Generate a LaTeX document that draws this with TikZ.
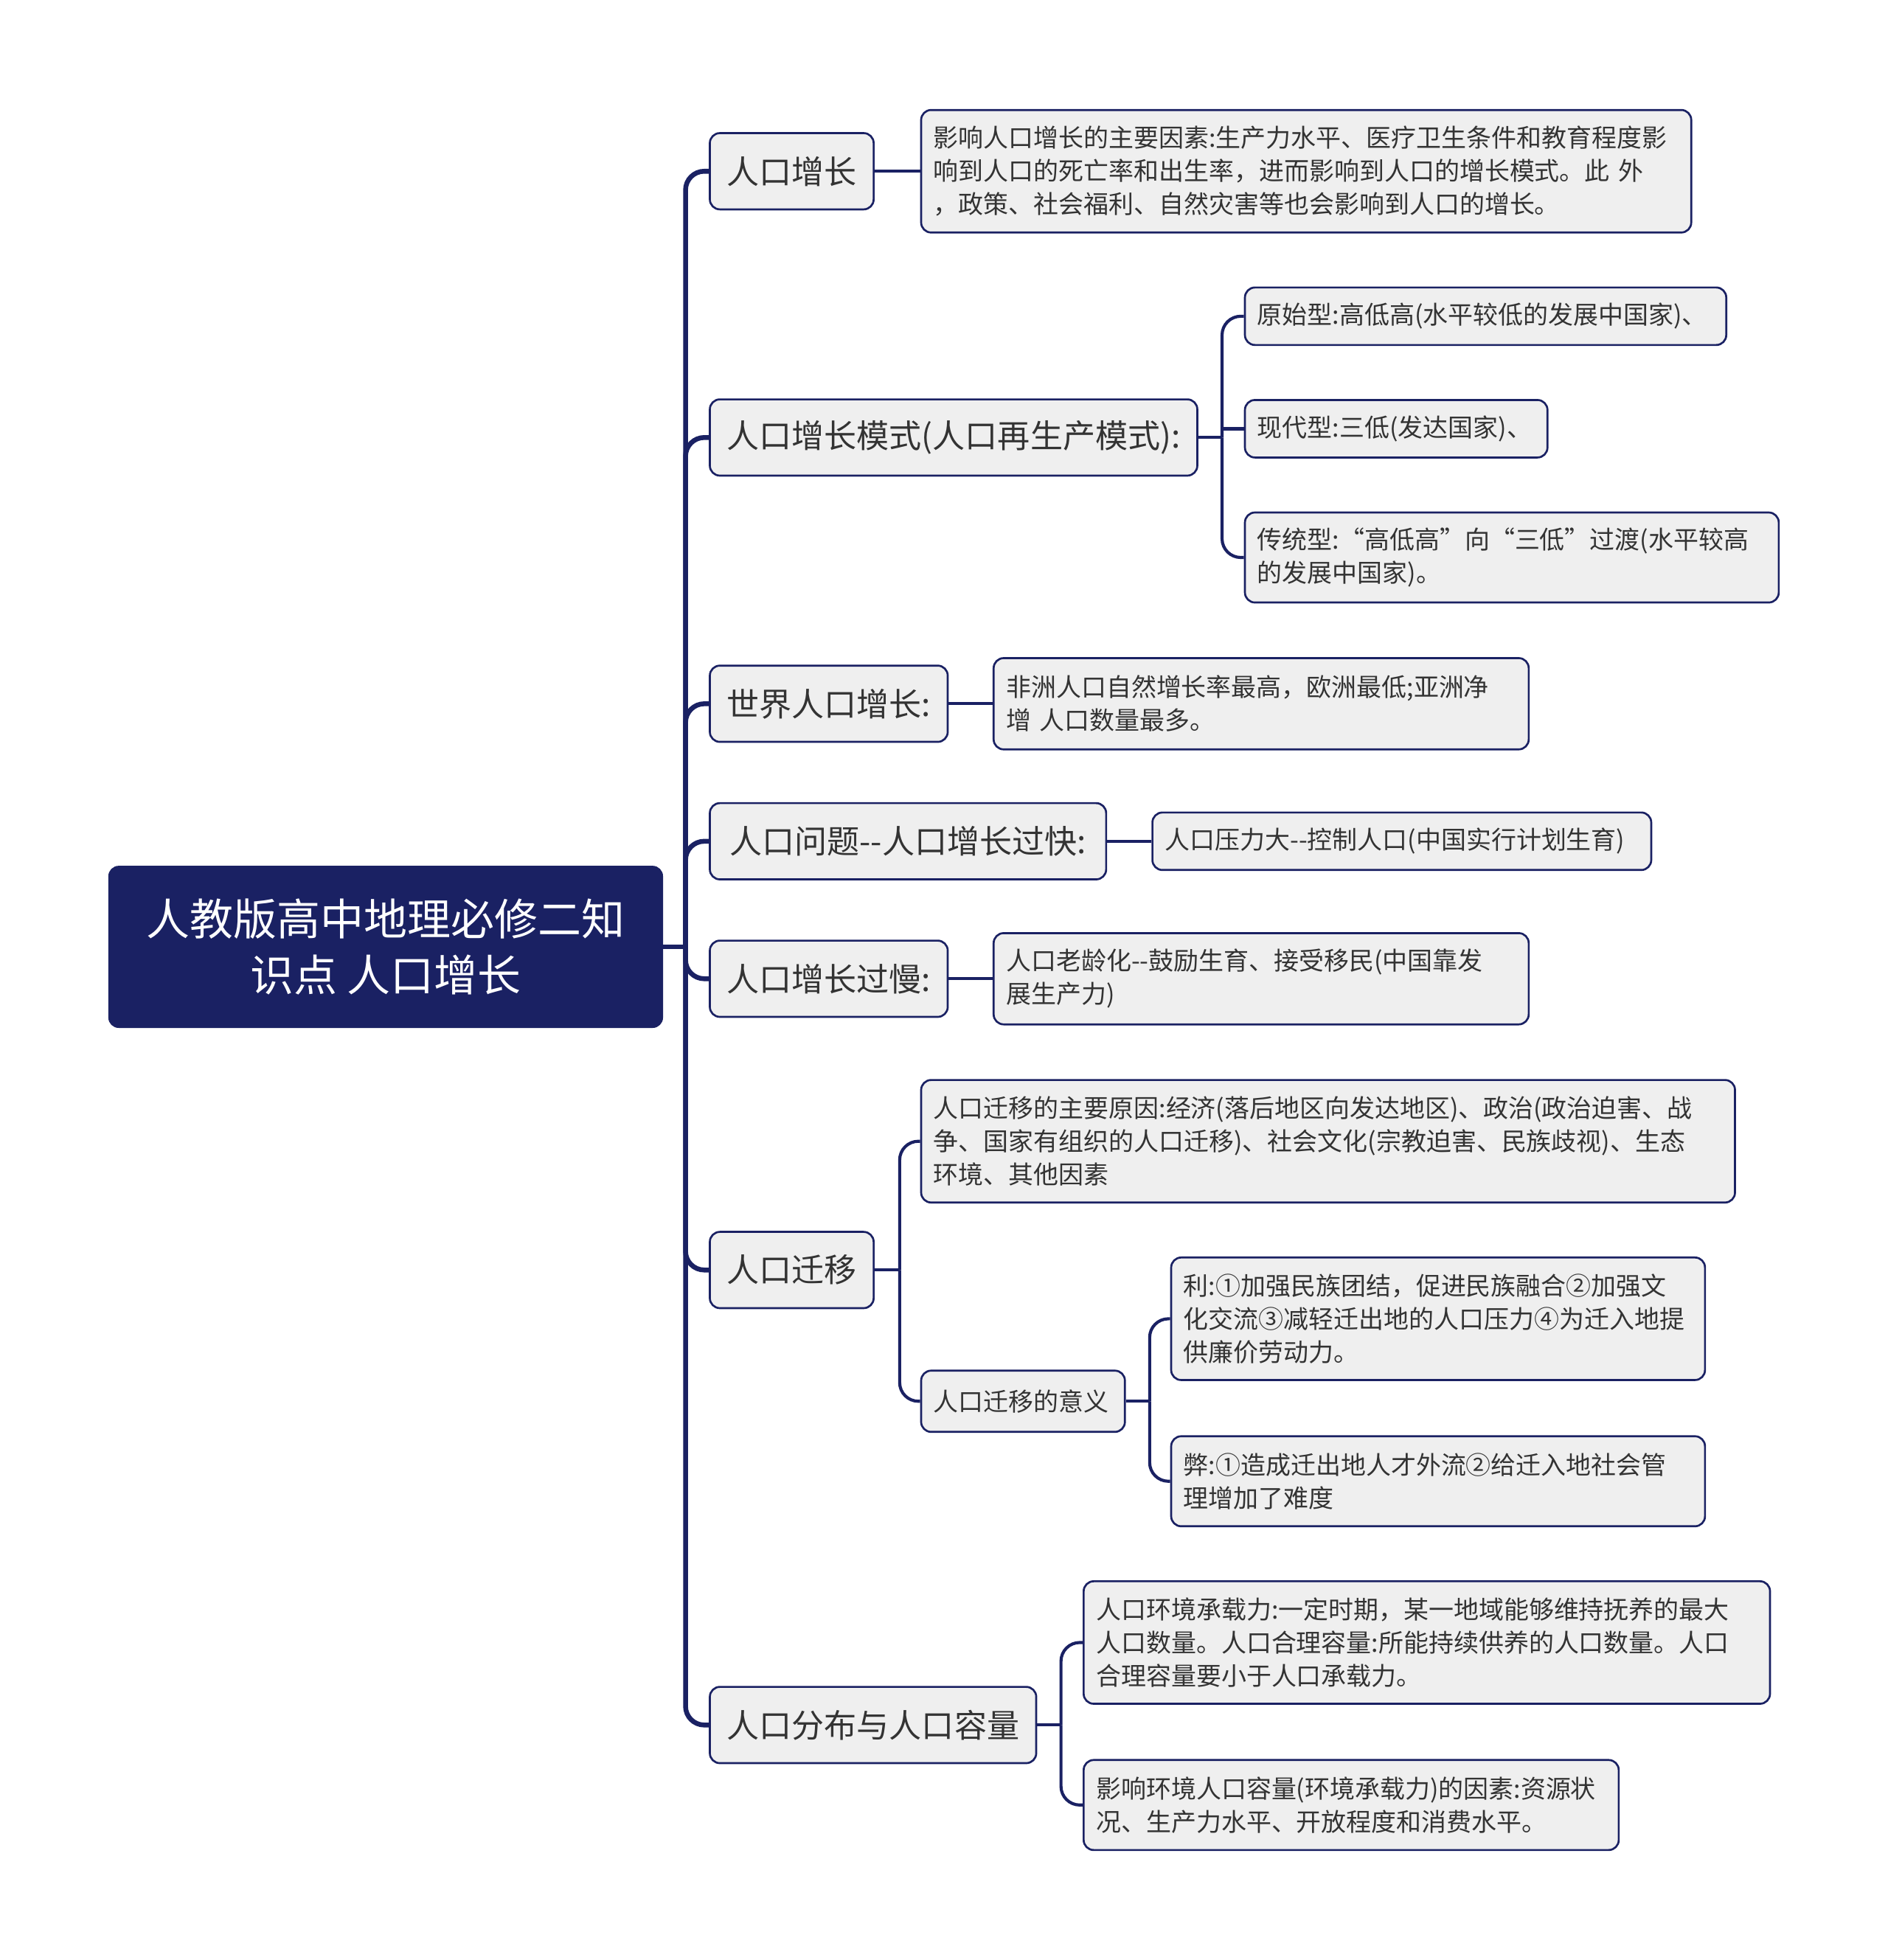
\documentclass[tikz,border=0pt]{standalone}
\usepackage{fontspec}
\setmainfont{Noto Sans CJK SC}
\usepackage{xcolor}
\usepackage{tikz}

\definecolor{navy}{HTML}{1A2163}
\definecolor{boxgray}{HTML}{EFEFEF}
\definecolor{inkgray}{HTML}{333333}

\begin{document}
\begin{tikzpicture}[
    every node/.style={text=inkgray},
    branch/.style={draw=navy, line width=0.9pt, fill=boxgray, rounded corners=0.16cm, anchor=west,
      minimum height=1.22cm, inner xsep=0.27cm, font=\fontsize{14.8pt}{18pt}\selectfont},
    leaf/.style={draw=navy, line width=0.9pt, fill=boxgray, rounded corners=0.16cm, anchor=west,
      align=left, inner xsep=0.2cm, inner ysep=0pt, font=\fontsize{11.4pt}{15.1pt}\selectfont},
    trunk/.style={draw=navy, line width=2.2pt, rounded corners=0.3cm},
    link/.style={draw=navy, line width=1.4pt, rounded corners=0.3cm}
  ]
      \useasboundingbox (0,0) rectangle (30.2,-31.36);

      % Root topic
      \node[draw=navy, fill=navy, rounded corners=0.16cm, minimum width=8.86cm, minimum height=2.58cm,
        align=center, text=white, font=\fontsize{19.8pt}{25.6pt}\selectfont] (root) at (6.17, -15.15) {
        人教版高中地理必修二知\\识点 人口增长
      };

      % Main branches
      \node[branch] (growth) at (11.34, -2.74) {人口增长};
      \node[branch] (mode) at (11.34, -7.00) {人口增长模式(人口再生产模式):};
      \node[branch] (world) at (11.34, -11.26) {世界人口增长:};
      \node[branch, minimum width=6.34cm] (fast) at (11.34, -13.46) {人口问题-{}-人口增长过快:};
      \node[branch] (slow) at (11.34, -15.66) {人口增长过慢:};
      \node[branch] (migr) at (11.34, -20.32) {人口迁移};
      \node[branch] (capac) at (11.34, -27.60) {人口分布与人口容量};

      % Growth
      \node[leaf, text width=11.92cm, minimum height=1.96cm] (growthinfo) at (14.72, -2.74) {
        影响人口增长的主要因素:生产力水平、医疗卫生条件和教育程度影\\
        响到人口的死亡率和出生率，进而影响到人口的增长模式。此 外\\
        ，政策、社会福利、自然灾害等也会影响到人口的增长。
      };

      % Growth modes
      \node[leaf, text width=7.30cm, minimum height=0.92cm] (primitive) at (19.90, -5.06) {原始型:高低高(水平较低的发展中国家)、};
      \node[leaf, text width=4.44cm, minimum height=0.92cm] (modern) at (19.90, -6.86) {现代型:三低(发达国家)、};
      \node[leaf, text width=8.14cm, minimum height=1.44cm] (traditional) at (19.90, -8.92) {
        传统型:“高低高”向“三低”过渡(水平较高\\
        的发展中国家)。
      };

      % World, too fast, too slow
      \node[leaf, text width=8.16cm, minimum height=1.46cm] (worldinfo) at (15.88, -11.26) {
        非洲人口自然增长率最高，欧洲最低;亚洲净\\
        增 人口数量最多。
      };
      \node[leaf, text width=7.58cm, minimum height=0.92cm] (fastinfo) at (18.42, -13.46) {人口压力大-{}-控制人口(中国实行计划生育)};
      \node[leaf, text width=8.16cm, minimum height=1.46cm] (slowinfo) at (15.88, -15.66) {
        人口老龄化-{}-鼓励生育、接受移民(中国靠发\\
        展生产力)
      };

      % Migration
      \node[leaf, text width=12.62cm, minimum height=1.96cm] (migrcause) at (14.72, -18.26) {
        人口迁移的主要原因:经济(落后地区向发达地区)、政治(政治迫害、战\\
        争、国家有组织的人口迁移)、社会文化(宗教迫害、民族歧视)、生态\\
        环境、其他因素
      };
      \node[leaf, text width=2.86cm, minimum height=0.98cm] (migrmean) at (14.72, -22.42) {人口迁移的意义};
      \node[leaf, text width=8.14cm, minimum height=1.96cm] (migrpro) at (18.72, -21.10) {
        利:①加强民族团结，促进民族融合②加强文\\
        化交流③减轻迁出地的人口压力④为迁入地提\\
        供廉价劳动力。
      };
      \node[leaf, text width=8.14cm, minimum height=1.44cm] (migrcon) at (18.72, -23.70) {
        弊:①造成迁出地人才外流②给迁入地社会管\\
        理增加了难度
      };

      % Capacity
      \node[leaf, text width=10.58cm, minimum height=1.96cm] (capacdef) at (17.32, -26.28) {
        人口环境承载力:一定时期，某一地域能够维持抚养的最大\\
        人口数量。人口合理容量:所能持续供养的人口数量。人口\\
        合理容量要小于人口承载力。
      };
      \node[leaf, text width=8.16cm, minimum height=1.44cm] (capacfactor) at (17.32, -28.88) {
        影响环境人口容量(环境承载力)的因素:资源状\\
        况、生产力水平、开放程度和消费水平。
      };

      % Connectors
      \draw[trunk] (root.east) -- ++(0.36, 0) coordinate (rj);
      \foreach \b in {growth, mode, world, fast, slow, migr, capac}
        \draw[trunk] (rj) |- (\b.west);

      \draw[link] (growth.east) -- (growthinfo.west);
      \draw[link] (mode.east) -- ++(0.38, 0) coordinate (mj);
      \foreach \l in {primitive, traditional}
        \draw[link] (mj) |- (\l.west);
      \draw[link, sharp corners] (mj) |- (modern.west);
      \draw[link] (world.east) -- (worldinfo.west);
      \draw[link] (fast.east) -- (fastinfo.west);
      \draw[link] (slow.east) -- (slowinfo.west);

      \draw[link] (migr.east) -- ++(0.40, 0) coordinate (gj);
      \foreach \l in {migrcause, migrmean}
        \draw[link] (gj) |- (\l.west);
      \draw[link] (migrmean.east) -- ++(0.38, 0) coordinate (sj);
      \foreach \l in {migrpro, migrcon}
        \draw[link] (sj) |- (\l.west);

      \draw[link] (capac.east) -- ++(0.38, 0) coordinate (cj);
      \foreach \l in {capacdef, capacfactor}
        \draw[link] (cj) |- (\l.west);
    \end{tikzpicture}
\end{document}
